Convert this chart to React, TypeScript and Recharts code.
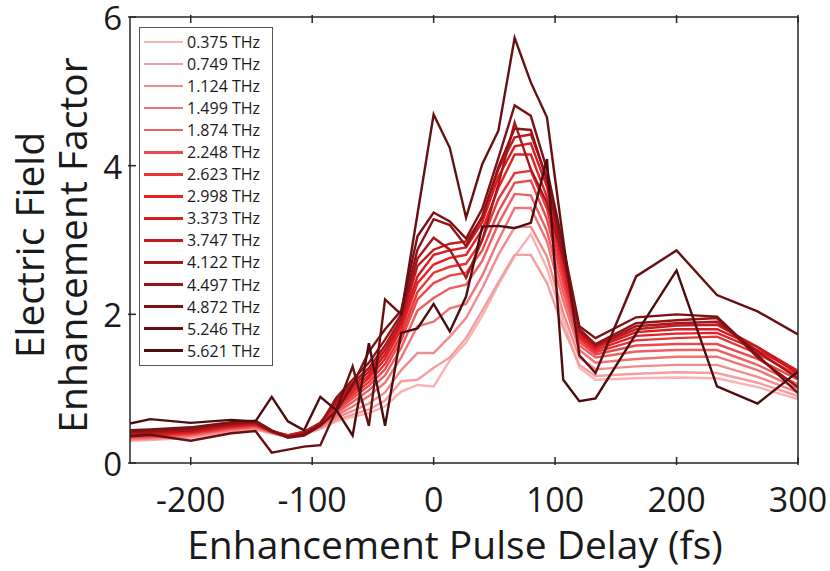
import { Legend, Line, LineChart, XAxis, YAxis } from "recharts";

// pump-probe delay grid (fs)
const delays = [-250, -233.3, -200, -166.7, -146.7, -133.3, -120, -106.7, -93.3, -80, -66.7, -53.3, -40, -26.7, -13.3, 0, 13.3, 26.7, 40, 53.3, 66.7, 80, 93.3, 106.7, 120, 133.3, 166.7, 200, 233.3, 266.7, 300];

const freqLabels = ["0.375 THz", "0.749 THz", "1.124 THz", "1.499 THz", "1.874 THz", "2.248 THz", "2.623 THz", "2.998 THz", "3.373 THz", "3.747 THz", "4.122 THz", "4.497 THz", "4.872 THz", "5.246 THz", "5.621 THz"];

const colors = ["#f8b3b3", "#f59e9f", "#f38a8b", "#f07476", "#ee5f61", "#eb4a4d", "#e83538", "#e52226", "#d81d22", "#c21a1f", "#aa171b", "#921418", "#7c1114", "#661012", "#4c0d0f"];

const thz0375 = [0.30, 0.31, 0.34, 0.42, 0.45, 0.40, 0.35, 0.38, 0.46, 0.56, 0.62, 0.67, 0.76, 0.96, 1.05, 1.03, 1.38, 1.62, 1.98, 2.40, 2.78, 3.08, 2.62, 1.92, 1.28, 1.12, 1.14, 1.15, 1.14, 1.02, 0.86];
const thz0749 = [0.31, 0.32, 0.35, 0.43, 0.46, 0.40, 0.35, 0.39, 0.47, 0.58, 0.65, 0.72, 0.84, 1.10, 1.12, 1.28, 1.42, 1.68, 2.05, 2.43, 2.80, 2.80, 2.42, 1.82, 1.32, 1.17, 1.20, 1.22, 1.21, 1.08, 0.90];
const thz1124 = [0.32, 0.33, 0.36, 0.44, 0.47, 0.41, 0.35, 0.39, 0.48, 0.61, 0.70, 0.80, 0.95, 1.25, 1.48, 1.48, 1.70, 1.95, 2.35, 2.80, 3.17, 3.18, 2.78, 2.02, 1.42, 1.26, 1.30, 1.32, 1.32, 1.16, 0.95];
const thz1499 = [0.33, 0.34, 0.37, 0.45, 0.48, 0.41, 0.35, 0.40, 0.49, 0.64, 0.76, 0.90, 1.08, 1.42, 1.84, 1.90, 2.08, 2.14, 2.52, 3.00, 3.43, 3.43, 2.98, 2.18, 1.52, 1.35, 1.40, 1.43, 1.43, 1.25, 1.00];
const thz1874 = [0.34, 0.35, 0.38, 0.46, 0.49, 0.42, 0.36, 0.40, 0.50, 0.67, 0.82, 0.98, 1.18, 1.55, 2.05, 2.22, 2.35, 2.40, 2.72, 3.22, 3.62, 3.60, 3.12, 2.30, 1.58, 1.42, 1.50, 1.52, 1.52, 1.32, 1.06];
const thz2248 = [0.35, 0.36, 0.39, 0.47, 0.50, 0.42, 0.36, 0.41, 0.51, 0.70, 0.87, 1.04, 1.26, 1.65, 2.20, 2.42, 2.52, 2.56, 2.86, 3.38, 3.77, 3.80, 3.28, 2.42, 1.63, 1.46, 1.58, 1.60, 1.60, 1.40, 1.12];
const thz2623 = [0.36, 0.37, 0.40, 0.48, 0.51, 0.43, 0.37, 0.41, 0.52, 0.73, 0.91, 1.09, 1.33, 1.72, 2.30, 2.56, 2.64, 2.68, 3.00, 3.55, 3.90, 3.93, 3.42, 2.52, 1.67, 1.49, 1.65, 1.68, 1.70, 1.47, 1.18];
const thz2998 = [0.37, 0.38, 0.41, 0.49, 0.52, 0.43, 0.37, 0.42, 0.53, 0.76, 0.95, 1.14, 1.40, 1.80, 2.42, 2.67, 2.76, 2.80, 3.14, 3.70, 4.15, 4.15, 3.58, 2.62, 1.70, 1.52, 1.71, 1.74, 1.75, 1.52, 1.22];
const thz3373 = [0.38, 0.39, 0.42, 0.50, 0.52, 0.43, 0.37, 0.42, 0.54, 0.79, 0.99, 1.18, 1.46, 1.86, 2.51, 2.80, 2.86, 2.90, 3.24, 3.85, 4.26, 4.30, 3.72, 2.72, 1.73, 1.55, 1.76, 1.80, 1.80, 1.56, 1.24];
const thz3747 = [0.39, 0.40, 0.43, 0.51, 0.53, 0.42, 0.36, 0.41, 0.54, 0.82, 1.03, 1.23, 1.52, 1.90, 2.65, 2.87, 2.95, 2.98, 3.30, 3.95, 4.38, 4.42, 3.84, 2.82, 1.76, 1.57, 1.80, 1.85, 1.86, 1.56, 1.20];
const thz4122 = [0.40, 0.41, 0.44, 0.52, 0.54, 0.42, 0.35, 0.40, 0.53, 0.85, 1.07, 1.28, 1.58, 1.95, 2.75, 3.03, 2.87, 2.49, 3.00, 3.75, 4.58, 3.95, 3.50, 2.75, 1.78, 1.58, 1.84, 1.88, 1.90, 1.50, 1.14];
const thz4497 = [0.42, 0.43, 0.46, 0.53, 0.55, 0.43, 0.35, 0.39, 0.52, 0.88, 1.12, 1.35, 1.66, 2.00, 2.87, 3.28, 3.20, 2.92, 3.32, 3.98, 4.50, 4.48, 3.80, 2.82, 1.80, 1.60, 1.88, 1.92, 1.95, 1.42, 1.02];
const thz4872 = [0.44, 0.45, 0.48, 0.55, 0.57, 0.44, 0.34, 0.37, 0.50, 0.70, 1.05, 1.50, 1.80, 2.05, 3.05, 3.37, 3.25, 3.02, 3.42, 4.10, 4.81, 4.67, 3.95, 2.92, 1.84, 1.68, 1.96, 2.00, 1.97, 1.45, 0.94];
const thz5246 = [0.36, 0.38, 0.30, 0.40, 0.43, 0.14, 0.18, 0.22, 0.24, 0.72, 1.30, 0.50, 2.20, 2.00, 3.35, 4.69, 4.24, 3.30, 4.02, 4.47, 5.72, 5.12, 4.65, 3.00, 1.45, 1.21, 2.51, 2.86, 2.26, 2.04, 1.73];
const thz5621 = [0.53, 0.59, 0.54, 0.58, 0.56, 0.89, 0.56, 0.44, 0.89, 0.71, 0.37, 1.61, 0.50, 1.75, 1.81, 2.14, 1.77, 2.24, 3.18, 3.19, 3.16, 3.23, 4.09, 1.12, 0.83, 0.87, 1.74, 2.59, 1.03, 0.80, 1.23];

const xTicks = [-200, -100, 0, 100, 200, 300];
const yTicks = [0, 2, 4, 6];

const allSeries = [thz0375, thz0749, thz1124, thz1499, thz1874, thz2248, thz2623, thz2998, thz3373, thz3747, thz4122, thz4497, thz4872, thz5246, thz5621];

const rows = delays.map((d, i) => {
  const row: Record<string, number> = { delay: d };
  allSeries.forEach((s, k) => {
    row[`s${k}`] = s[i];
  });
  return row;
});

const AXIS = "#262626";
const FONT = "'Open Sans', sans-serif";

function BottomTick({ x, y, payload }: any) {
  return (
    <g>
      <line x1={x} y1={y} x2={x} y2={y - 8} stroke={AXIS} strokeWidth={1.5} />
      <text x={x} y={y + 47} textAnchor="middle" fontSize={34} fill="#1a1a1a" fontFamily={FONT}>
        {payload.value}
      </text>
    </g>
  );
}

function LeftTick({ x, y, payload }: any) {
  return (
    <g>
      <line x1={x} y1={y} x2={x + 8} y2={y} stroke={AXIS} strokeWidth={1.5} />
      <text x={x - 6} y={y + 13} textAnchor="end" fontSize={33} fill="#1a1a1a" fontFamily={FONT}>
        {payload.value}
      </text>
    </g>
  );
}

function TopTick({ x, y }: any) {
  return <line x1={x} y1={y} x2={x} y2={y + 8} stroke={AXIS} strokeWidth={1.5} />;
}

function RightTick({ x, y }: any) {
  return <line x1={x} y1={y} x2={x - 8} y2={y} stroke={AXIS} strokeWidth={1.5} />;
}

function LegendBox({ payload }: any) {
  return (
    <div
      style={{
        border: "1.5px solid #555",
        background: "#fff",
        width: 134,
        padding: "3px 0 3px 0",
        boxSizing: "border-box",
      }}
    >
      {(payload || []).map((p: any) => (
        <div key={p.value} style={{ display: "flex", alignItems: "center", height: 22.05 }}>
          <div style={{ width: 39, height: 2.5, background: p.color, marginLeft: 4, marginRight: 4 }} />
          <span style={{ fontFamily: FONT, fontSize: 16, color: "#1a1a1a", lineHeight: 1 }}>{p.value}</span>
        </div>
      ))}
    </div>
  );
}

export default function App() {
  return (
    <div style={{ position: "absolute", left: 0, top: 0, width: 830, height: 571, background: "#fff" }}>
      <LineChart width={830} height={571} data={rows} margin={{ top: 16, right: 31, bottom: 48, left: 0 }}>
        <XAxis
          dataKey="delay"
          type="number"
          domain={[-250, 300]}
          ticks={xTicks}
          interval={0}
          allowDataOverflow
          height={60}
          tickSize={0}
          tickLine={false}
          axisLine={{ stroke: AXIS, strokeWidth: 1.5 }}
          tick={<BottomTick />}
          label={{
            content: () => (
              <text x={455} y={559} textAnchor="middle" fontSize={39} fill="#1a1a1a" fontFamily={FONT}>
                Enhancement Pulse Delay (fs)
              </text>
            ),
          }}
        />
        <XAxis
          xAxisId="top"
          orientation="top"
          dataKey="delay"
          type="number"
          domain={[-250, 300]}
          ticks={xTicks}
          interval={0}
          height={1}
          tickSize={0}
          tickLine={false}
          axisLine={{ stroke: AXIS, strokeWidth: 1.5 }}
          tick={<TopTick />}
        />
        <YAxis
          type="number"
          domain={[0, 6]}
          ticks={yTicks}
          interval={0}
          allowDataOverflow
          width={130}
          tickSize={0}
          tickLine={false}
          axisLine={{ stroke: AXIS, strokeWidth: 1.5 }}
          tick={<LeftTick />}
          label={{
            content: () => (
              <g transform="translate(0,245) rotate(-90)">
                <text x={0} y={44} textAnchor="middle" fontSize={39} fill="#1a1a1a" fontFamily={FONT}>
                  Electric Field
                </text>
                <text x={0} y={87} textAnchor="middle" fontSize={39} fill="#1a1a1a" fontFamily={FONT}>
                  Enhancement Factor
                </text>
              </g>
            ),
          }}
        />
        <YAxis
          yAxisId="right"
          orientation="right"
          type="number"
          domain={[0, 6]}
          ticks={yTicks}
          interval={0}
          width={1}
          tickSize={0}
          tickLine={false}
          axisLine={{ stroke: AXIS, strokeWidth: 1.5 }}
          tick={<RightTick />}
        />
        {allSeries.map((_, k) => (
          <Line
            key={k}
            type="linear"
            dataKey={`s${k}`}
            name={freqLabels[k]}
            stroke={colors[k]}
            strokeWidth={2.4}
            dot={false}
            isAnimationActive={false}
          />
        ))}
        <Legend
          layout="vertical"
          verticalAlign="middle"
          align="center"
          content={<LegendBox />}
          wrapperStyle={{ position: "absolute", left: 139, top: 27, width: 134 }}
        />
      </LineChart>
    </div>
  );
}
